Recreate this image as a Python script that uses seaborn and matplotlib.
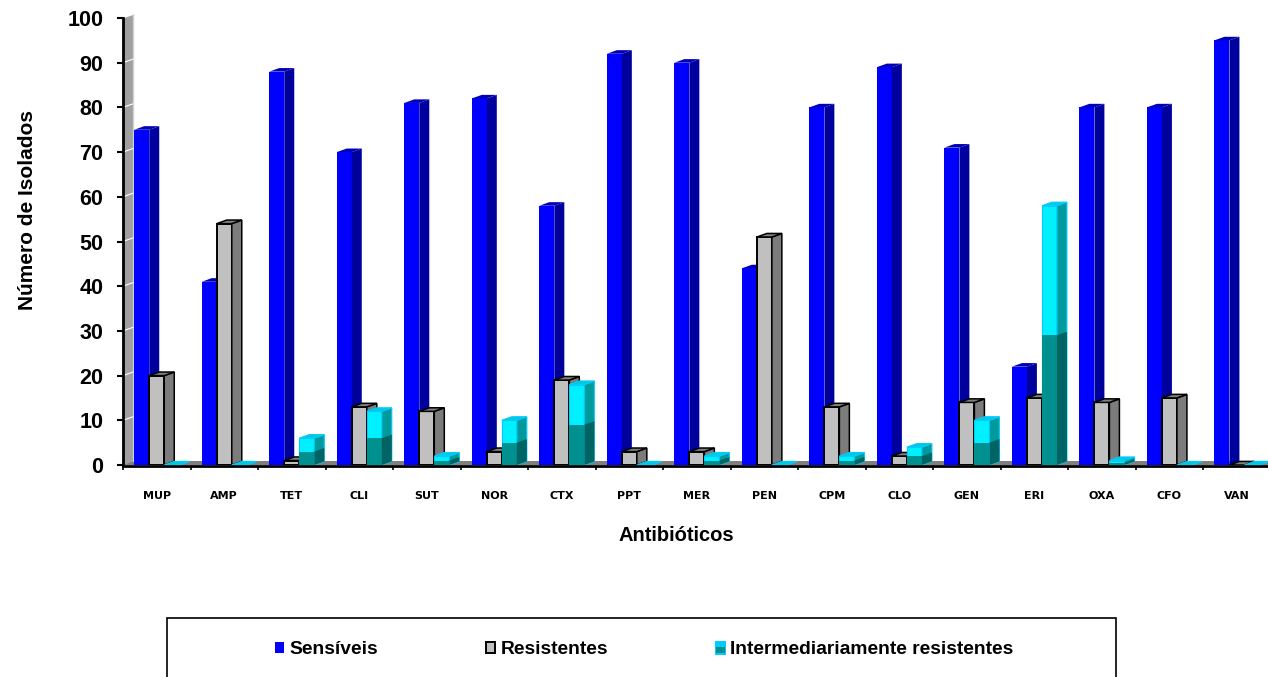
import pandas as pd
import matplotlib
matplotlib.use("Agg")
import matplotlib.pyplot as plt
import seaborn as sns
from matplotlib.legend_handler import HandlerBase
from matplotlib.patches import Patch, Polygon, Rectangle

# values
antibioticos = ["MUP", "AMP", "TET", "CLI", "SUT", "NOR", "CTX", "PPT", "MER",
                "PEN", "CPM", "CLO", "GEN", "ERI", "OXA", "CFO", "VAN"]
sensiveis = [75, 41, 88, 70, 81, 82, 58, 92, 90, 44, 80, 89, 71, 22, 80, 80, 95]
resistentes = [20, 54, 1, 13, 12, 3, 19, 3, 3, 51, 13, 2, 14, 15, 14, 15, 0]
intermediarios = [0, 0, 6, 12, 2, 10, 18, 0, 2, 0, 2, 4, 10, 58, 1, 0, 0]

series = ["Sensíveis", "Resistentes", "Intermediariamente resistentes"]
front = {series[0]: "#0000FF", series[1]: "#C0C0C0", series[2]: "#00F0FF"}
side = {series[0]: "#00009C", series[1]: "#7C7C7C", series[2]: "#009A9C"}
top = {series[0]: "#0000B8", series[1]: "#808080", series[2]: "#00C8E0"}
edge = {series[0]: "none", series[1]: "black", series[2]: "#00CCFF"}

# fake 3d offset, in data units
DX = 0.148
DY = 0.8


class SplitHandler(HandlerBase):
    # cyan legend swatch with the darker lower half
    def create_artists(self, legend, orig, xd, yd, w, h, fontsize, trans):
        upper = Rectangle((-xd - 1, -yd - 1), w + 2, h + 2, fc="#00CCFF", ec="none", transform=trans)
        lower = Rectangle((-xd, -yd), w, h * 0.55, fc="#009090", ec="none", transform=trans)
        return [upper, lower]


def add_depth(ax, bar, name, zorder):
    x0, x1 = bar.get_x(), bar.get_x() + bar.get_width()
    y0 = bar.get_y()
    y1 = y0 + bar.get_height()
    lw = 1.1 if name == series[1] else 0.8
    side_pts = [(x1, y0), (x1 + DX, y0 + DY), (x1 + DX, y1 + DY), (x1, y1)]
    top_pts = [(x0, y1), (x0 + DX, y1 + DY), (x1 + DX, y1 + DY), (x1, y1)]
    ax.add_patch(Polygon(side_pts, fc=side[name], ec=edge[name], lw=lw, zorder=zorder))
    ax.add_patch(Polygon(top_pts, fc=top[name], ec=edge[name], lw=lw, zorder=zorder))


if __name__ == "__main__":
    sns.set_style("white")

    df = pd.DataFrame({
        "Antibiotico": antibioticos * 3,
        "Serie": [series[0]] * 17 + [series[1]] * 17 + [series[2]] * 17,
        "Isolados": sensiveis + resistentes + intermediarios,
    })

    fig = plt.figure(figsize=(12.68, 6.77), dpi=100)
    ax = fig.add_axes([123 / 1268, 212 / 677, 1145 / 1268, 447 / 677])

    sns.barplot(data=df, x="Antibiotico", y="Isolados", hue="Serie", hue_order=series,
                palette=front, width=0.667, gap=0, saturation=1, legend=False, ax=ax)

    for num, (container, name) in enumerate(zip(ax.containers, series)):
        zorder = 3 + num
        for bar in container:
            height = bar.get_height()
            if num == 0 and height == 0:
                continue
            bar.set_zorder(zorder)
            bar.set_edgecolor(edge[name])
            bar.set_linewidth(1.4 if num == 1 else 0.8)
            add_depth(ax, bar, name, zorder)
            # lower half of the cyan bars is darker
            if num == 2 and height > 0:
                x0, w = bar.get_x(), bar.get_width()
                ax.add_patch(Rectangle((x0, 0), w, height / 2, fc="#009090", ec="none", zorder=zorder + 0.1))
                ax.add_patch(Polygon([(x0 + w, 0), (x0 + w + DX, DY), (x0 + w + DX, height / 2 + DY), (x0 + w, height / 2)],
                                     fc="#006464", ec="none", zorder=zorder + 0.1))

    ax.set_xlim(-0.5, 16.46)
    ax.set_ylim(0, 100)

    # floor and left wall
    ax.add_patch(Rectangle((-0.5, 0), 17.5, 0.9, fc="#808080", ec="none", zorder=1))
    ax.add_patch(Polygon([(-0.5, 0), (-0.5 + DX, DY), (-0.5 + DX, 100 + DY), (-0.5, 100)],
                         fc="#A0A0A0", ec="none", zorder=1, clip_on=False))
    ax.plot([-0.5 + DX, -0.5 + DX], [DY, 100 + DY], color="#D0D0D0", lw=1, zorder=1.2, clip_on=False)
    for tick in range(10, 101, 10):
        ax.plot([-0.5, -0.5 + DX], [tick, tick + DY], color="white", lw=0.8, zorder=1.5, clip_on=False)

    sns.despine(ax=ax, top=True, right=True)
    for where in ["left", "bottom"]:
        ax.spines[where].set_linewidth(2)
        ax.spines[where].set_color("black")
        ax.spines[where].set_zorder(10)
    ax.spines["bottom"].set_position(("outward", 0.8))

    ax.set_yticks(range(0, 101, 10))
    ax.set_xticks(range(17))
    ax.set_xticklabels(antibioticos, family="DejaVu Sans", fontweight="bold", fontsize=8, color="black")
    ax.set_xticks([i - 0.5 for i in range(18) if i - 0.5 <= 16.46], minor=True)
    ax.tick_params(axis="x", which="major", length=0, pad=18)
    ax.tick_params(axis="x", which="minor", length=3, width=1.2, color="black", bottom=True)
    ax.tick_params(axis="y", length=4, width=1.5, color="black", pad=10, left=True)
    for label in ax.get_yticklabels():
        label.set_family("Liberation Sans")
        label.set_fontweight("bold")
        label.set_fontsize(15.5)
        label.set_color("black")

    ax.set_xlabel("Antibióticos", family="Liberation Sans", fontweight="bold", fontsize=14.5, color="black")
    ax.set_ylabel("Número de Isolados", family="Liberation Sans", fontweight="bold", fontsize=15, color="black")
    ax.xaxis.set_label_coords(0.483, -0.136)
    ax.yaxis.set_label_coords(-0.075, 0.57)

    # legend box runs off the bottom of the image
    fig.add_artist(Rectangle((167 / 1268, -0.02), 949 / 1268, (677 - 618) / 677 + 0.02,
                             transform=fig.transFigure, fc="white", ec="black", lw=1.2))
    handles = [Patch(fc=front[series[0]], ec="none"),
               Patch(fc=front[series[1]], ec="black", lw=1.4),
               Patch(fc="#00CCFF", ec="none")]
    fig.legend(handles, series, ncol=3, loc="center left", bbox_to_anchor=(275 / 1268, 27 / 677),
               frameon=False, borderpad=0, borderaxespad=0, handlelength=0.47, handleheight=0.5,
               handletextpad=0.27, columnspacing=5.6, labelcolor="black",
               handler_map={handles[2]: SplitHandler()},
               prop={"family": "Liberation Sans", "weight": "bold", "size": 13.9})

    plt.savefig("out.png", dpi=100)
